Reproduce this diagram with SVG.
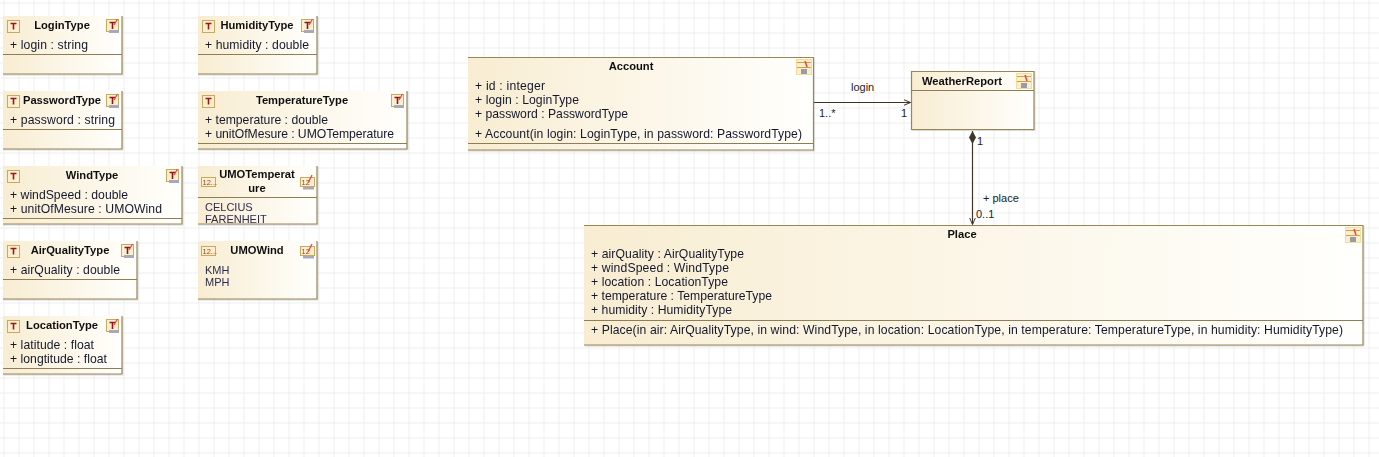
<svg xmlns="http://www.w3.org/2000/svg" width="1379" height="457" viewBox="0 0 1379 457">
<style>
text{font-family:"Liberation Sans",Arial,sans-serif;font-size:12.2px;fill:#14182c}
.t{font-weight:bold;font-size:11.2px;text-anchor:middle;fill:#111}
.e{font-size:11px;fill:#2c2c50}
.l{font-size:11px;fill:#222}
.b{stroke:#978658;stroke-width:1.2;fill:none}
.d{stroke:#8f7d55;stroke-width:1}
.c{stroke:#3f3524;stroke-width:1.2;fill:none}
.g{stroke:#eeeeee;stroke-width:1;fill:none}
</style>
<defs>
<linearGradient id="f"><stop offset="0" stop-color="#f8edd2"/><stop offset="1" stop-color="#fffffd"/></linearGradient>
<pattern id="grid" x="3.500" y="2.500" width="15" height="15" patternUnits="userSpaceOnUse"><path class="g" d="M0.500 0V15M0 0.500H15"/></pattern>
<filter id="s" x="-5%" y="-5%" width="110%" height="115%"><feDropShadow dx="0.700" dy="1" stdDeviation="0.500" flood-color="#000" flood-opacity=".15"/></filter>
<g id="tb"><rect x="0.500" y="0.500" width="12" height="12" fill="#fbefd0" stroke="#c9a860"/><path d="M3.500 3.500H9.500M6.500 3.500V9.500" stroke="#a01818" stroke-width="1.600" fill="none"/></g>
<g id="eb"><rect x="0.500" y="0.500" width="14" height="9" fill="#fbefd0" stroke="#c9a860"/><text x="1.500" y="8" style="font-size:7.500px;fill:#9a4020">12...</text></g>
<g id="ti"><rect x="0.500" y="0.500" width="12" height="12" fill="#fbefd0" stroke="#c9a860"/><path d="M3.500 3.500H9.500M6.500 3.500V10" stroke="#901818" stroke-width="1.600" fill="none"/><path d="M8 6L11.500 0" stroke="#f04040" stroke-width="1.200" fill="none"/><rect x="3" y="11" width="10" height="3" fill="#a8a8b8"/></g>
<g id="ei"><rect x="0.500" y="2.500" width="14" height="9" fill="#fbefd0" stroke="#c9a860"/><text x="1.500" y="10" style="font-size:7.500px;fill:#9a4020">12</text><path d="M8 8L12 0" stroke="#f04040" stroke-width="1.200" fill="none"/><rect x="3" y="12" width="11" height="2.500" fill="#a8a8b8"/></g>
<g id="ci"><rect x="0" y="0" width="16" height="16" fill="#f6dc98"/><rect x="1" y="1" width="14" height="14" fill="#fbeec8"/><path d="M1 3.500H15M1 8.500H15" stroke="#d0a050"/><path d="M9 2L11 8" stroke="#f04040" stroke-width="1.500"/><rect x="5" y="10" width="6" height="5" fill="#9a9aa8"/></g>
<marker id="open" markerWidth="10" markerHeight="10" refX="7" refY="4" orient="auto" markerUnits="userSpaceOnUse"><path d="M0 1L7 4L0 7" fill="none" stroke="#3f3524"/></marker>
<marker id="dia" markerWidth="16" markerHeight="10" refX="0" refY="4" orient="auto" markerUnits="userSpaceOnUse"><path d="M0 4L6.500 0.500L13 4L6.500 7.500Z" fill="#3f3524"/></marker>
</defs>
<rect width="1379" height="457" fill="#fff"/>
<rect width="1379" height="457" fill="url(#grid)"/>

<g id="LoginType" filter="url(#s)"><rect x="3" y="16" width="119" height="58" fill="url(#f)"/><path class="b" d="M122 16V74H3"/><path class="d" d="M3 54.500H122"/><use href="#tb" x="7" y="20"/><use href="#ti" x="106" y="19"/><text class="t" x="62" y="29">LoginType</text><text x="10" y="49" textLength="78">+ login : string</text></g>
<g id="PasswordType" filter="url(#s)"><rect x="3" y="91" width="119" height="58" fill="url(#f)"/><path class="b" d="M122 91V149H3"/><path class="d" d="M3 129.500H122"/><use href="#tb" x="7" y="95"/><use href="#ti" x="106" y="94"/><text class="t" x="62" y="104">PasswordType</text><text x="10" y="124" textLength="105">+ password : string</text></g>
<g id="WindType" filter="url(#s)"><rect x="3" y="166" width="179" height="58" fill="url(#f)"/><path class="b" d="M182 166V224H3"/><path class="d" d="M3 218.500H182"/><use href="#tb" x="7" y="170"/><use href="#ti" x="166" y="169"/><text class="t" x="92" y="179">WindType</text><text x="10" y="199" textLength="118">+ windSpeed : double</text><text x="10" y="213" textLength="152">+ unitOfMesure : UMOWind</text></g>
<g id="AirQualityType" filter="url(#s)"><rect x="3" y="241" width="134" height="58" fill="url(#f)"/><path class="b" d="M137 241V299H3"/><path class="d" d="M3 279.500H137"/><use href="#tb" x="7" y="245"/><use href="#ti" x="121" y="244"/><text class="t" x="70" y="254">AirQualityType</text><text x="10" y="274" textLength="110">+ airQuality : double</text></g>
<g id="LocationType" filter="url(#s)"><rect x="3" y="316" width="119" height="58" fill="url(#f)"/><path class="b" d="M122 316V374H3"/><path class="d" d="M3 368.500H122"/><use href="#tb" x="7" y="320"/><use href="#ti" x="106" y="319"/><text class="t" x="62" y="329">LocationType</text><text x="10" y="349" textLength="84">+ latitude : float</text><text x="10" y="363" textLength="97">+ longtitude : float</text></g>

<g id="HumidityType" filter="url(#s)"><rect x="198" y="16" width="119" height="58" fill="url(#f)"/><path class="b" d="M317 16V74H198"/><path class="d" d="M198 54.500H317"/><use href="#tb" x="202" y="20"/><use href="#ti" x="301" y="19"/><text class="t" x="257" y="29">HumidityType</text><text x="205" y="49" textLength="104">+ humidity : double</text></g>
<g id="TemperatureType" filter="url(#s)"><rect x="198" y="91" width="209" height="58" fill="url(#f)"/><path class="b" d="M407 91V149H198"/><path class="d" d="M198 143.500H407"/><use href="#tb" x="202" y="95"/><use href="#ti" x="391" y="94"/><text class="t" x="302" y="104">TemperatureType</text><text x="205" y="124" textLength="123">+ temperature : double</text><text x="205" y="138" textLength="189">+ unitOfMesure : UMOTemperature</text></g>
<g id="UMOTemperature" filter="url(#s)"><rect x="198" y="166" width="119" height="58" fill="url(#f)"/><path class="b" d="M317 166V224H198"/><path class="d" d="M198 197.500H317"/><use href="#eb" x="201" y="177"/><use href="#ei" x="300" y="175"/><text class="t" x="257" y="178">UMOTemperat</text><text class="t" x="257" y="192">ure</text><text class="e" x="205" y="211">CELCIUS</text><text class="e" x="205" y="223">FARENHEIT</text></g>
<g id="UMOWind" filter="url(#s)"><rect x="198" y="241" width="119" height="58" fill="url(#f)"/><path class="b" d="M317 241V299H198"/><use href="#eb" x="201" y="246"/><use href="#ei" x="300" y="244"/><text class="t" x="257" y="254">UMOWind</text><text class="e" x="205" y="274">KMH</text><text class="e" x="205" y="286">MPH</text></g>

<g id="Account" filter="url(#s)"><rect x="468" y="57" width="345" height="93" fill="url(#f)"/><path class="b" d="M468 57.500H813.500V150H468"/><path class="d" d="M468 143.500H813"/><use href="#ci" x="796" y="59"/><text class="t" x="631" y="70">Account</text><text x="475" y="90" textLength="70">+ id : integer</text><text x="475" y="104" textLength="104">+ login : LoginType</text><text x="475" y="118" textLength="153">+ password : PasswordType</text><text x="475" y="138" textLength="327">+ Account(in login: LoginType, in password: PasswordType)</text></g>
<g id="WeatherReport" filter="url(#s)"><rect x="911" y="71" width="123" height="59" fill="url(#f)"/><path class="b" d="M911.500 71.500H1034V129.500H911.500Z"/><path class="d" d="M911 90.500H1034"/><use href="#ci" x="1016" y="73"/><text class="t" x="962" y="85">WeatherReport</text></g>
<g id="Place" filter="url(#s)"><rect x="584" y="225" width="779" height="120" fill="url(#f)"/><path class="b" d="M584 225.500H1363V345H584"/><path class="d" d="M584 320.500H1363"/><use href="#ci" x="1345" y="227"/><text class="t" x="962" y="238">Place</text><text x="591" y="258" textLength="153">+ airQuality : AirQualityType</text><text x="591" y="272" textLength="138">+ windSpeed : WindType</text><text x="591" y="286" textLength="137">+ location : LocationType</text><text x="591" y="300" textLength="181">+ temperature : TemperatureType</text><text x="591" y="314" textLength="141">+ humidity : HumidityType</text><text x="591" y="334" textLength="752">+ Place(in air: AirQualityType, in wind: WindType, in location: LocationType, in temperature: TemperatureType, in humidity: HumidityType)</text></g>

<g id="connectors">
<path class="c" d="M814 102.500H910.500" marker-end="url(#open)"/>
<path class="c" d="M972.500 131V224.500" marker-start="url(#dia)" marker-end="url(#open)"/>
<text class="l" x="851" y="91">login</text>
<text class="l" x="819" y="117">1..*</text>
<text class="l" x="901" y="117">1</text>
<text class="l" x="977" y="145">1</text>
<text class="l" x="983" y="202">+ place</text>
<text class="l" x="976" y="218">0..1</text>
</g>
</svg>
